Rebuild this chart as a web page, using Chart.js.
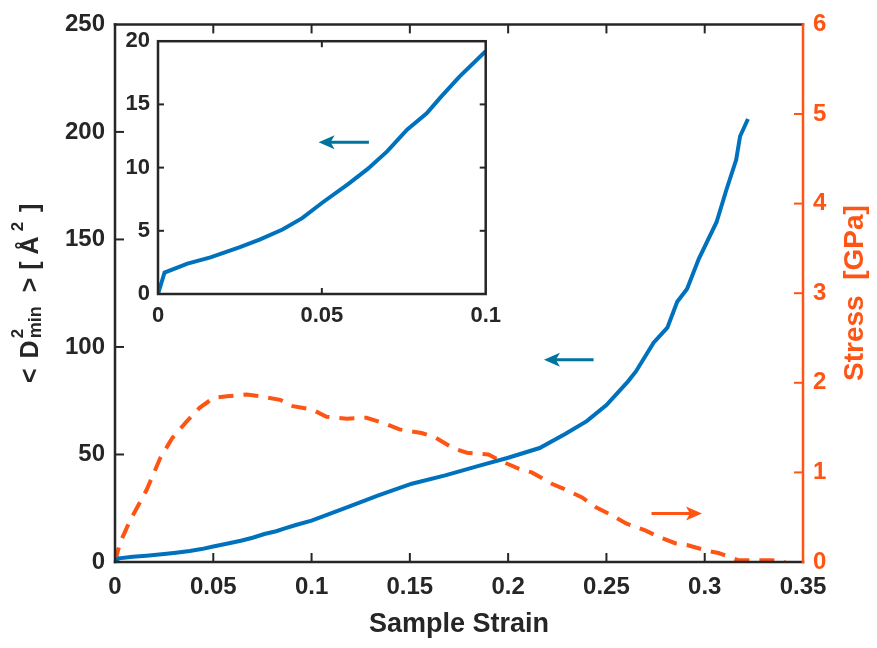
<!DOCTYPE html>
<html>
<head>
<meta charset="utf-8">
<script src="https://cdn.jsdelivr.net/npm/chart.js@4.4.1/dist/chart.umd.min.js"></script>
<style>
  html, body { margin: 0; padding: 0; background: #fff; }
  #wrap { position: relative; width: 877px; height: 648px; }
  #main { position: absolute; left: 0; top: 0; }
  #inset { position: absolute; left: 100px; top: 20px; }
</style>
</head>
<body>
<div id="wrap">
  <canvas id="main" width="877" height="648"></canvas>
  <canvas id="inset" width="410" height="320"></canvas>
</div>
<script>
// curva D2min (eje izquierdo)
const strainD = [0, 0.002, 0.009, 0.016, 0.025, 0.031, 0.038, 0.044, 0.05, 0.058, 0.064, 0.07, 0.076, 0.082, 0.086, 0.092, 0.1,
  0.118, 0.134, 0.151, 0.168, 0.185, 0.2, 0.216, 0.229, 0.24, 0.25, 0.261, 0.265, 0.274, 0.281, 0.286, 0.291, 0.297, 0.306, 0.311, 0.316, 0.318, 0.322];
const dmin = [0, 1.7, 2.4, 2.9, 3.7, 4.3, 5.1, 6.0, 7.2, 8.7, 9.9, 11.3, 13.0, 14.3, 15.5, 17.2, 19.2,
  25.4, 31, 36.4, 40.3, 44.7, 48.5, 53, 59.5, 65.5, 73, 84, 88.6, 102, 109, 121, 127, 141, 158, 173, 187, 198, 206];

// curva de tension (eje derecho)
const strainS = [0, 0.0025, 0.0076, 0.016, 0.023, 0.029, 0.0365, 0.043, 0.05, 0.057, 0.067, 0.0736, 0.084, 0.0905, 0.1005, 0.1076,
  0.118, 0.128, 0.138, 0.1447, 0.156, 0.163, 0.172, 0.179, 0.19, 0.196, 0.2056, 0.212, 0.2225, 0.228, 0.2376, 0.2447, 0.253,
  0.26, 0.27, 0.2767, 0.285, 0.291, 0.3005, 0.307, 0.317, 0.324, 0.334, 0.341];
const stress = [0, 0.21, 0.46, 0.8, 1.16, 1.38, 1.57, 1.72, 1.83, 1.85, 1.87, 1.85, 1.81, 1.74, 1.70, 1.62,
  1.60, 1.61, 1.54, 1.48, 1.44, 1.39, 1.27, 1.22, 1.2, 1.13, 1.04, 1.0, 0.87, 0.82, 0.72, 0.61, 0.52,
  0.43, 0.35, 0.28, 0.21, 0.19, 0.13, 0.10, 0.02, 0.02, 0.02, 0];

// marcas de los ejes
const xTicks = [0, 0.05, 0.1, 0.15, 0.2, 0.25, 0.3, 0.35];
const yTicks = [0, 50, 100, 150, 200, 250];
const y2Ticks = [0, 1, 2, 3, 4, 5, 6];
const insetXTicks = [0, 0.05, 0.1];
const insetYTicks = [0, 5, 10, 15, 20];

// flechas (en unidades de datos): desde -> hacia
const arrowD = { from: 0.2427, to: 0.2182, y: 94 };
const arrowS = { from: 0.2737, to: 0.2986, y: 0.54 };
const arrowInset = { from: 0.0639, to: 0.049, y: 12.0 };

const FONT = "'Liberation Sans', Arial, Helvetica, sans-serif";
const BLACK = '#262626';
const BLUE = '#0072BD';
const ARROW_BLUE = '#00739E';
const ORANGE = '#FF5514';

const fmt = v => String(+Number(v).toFixed(2));

function drawArrow(ctx, x1, x2, y, color) {
  const dir = Math.sign(x2 - x1);
  const head = 16;
  ctx.save();
  ctx.strokeStyle = color;
  ctx.fillStyle = color;
  ctx.lineWidth = 3;
  ctx.beginPath();
  ctx.moveTo(x1, y);
  ctx.lineTo(x2 - dir * head * 0.8, y);
  ctx.stroke();
  ctx.beginPath();
  ctx.moveTo(x2, y);
  ctx.lineTo(x2 - dir * head, y - 7);
  ctx.lineTo(x2 - dir * head * 0.75, y);
  ctx.lineTo(x2 - dir * head, y + 7);
  ctx.closePath();
  ctx.fill();
  ctx.restore();
}

function line(ctx, x1, y1, x2, y2, color, w) {
  ctx.strokeStyle = color;
  ctx.lineWidth = w;
  ctx.beginPath();
  ctx.moveTo(x1, y1);
  ctx.lineTo(x2, y2);
  ctx.stroke();
}

// etiqueta con superindices y subindices
function drawDminLabel(ctx) {
  const big = 'bold 25px ' + FONT;
  const small = 'bold 17px ' + FONT;
  const sub = 'bold 18px ' + FONT;
  ctx.save();
  ctx.translate(38, 383);
  ctx.rotate(-Math.PI / 2);
  ctx.fillStyle = BLACK;
  ctx.textBaseline = 'alphabetic';
  ctx.textAlign = 'left';
  let x = 0;
  const put = (t, f, dy, gap) => {
    ctx.font = f;
    ctx.fillText(t, x, dy);
    return ctx.measureText(t).width + gap;
  };
  x += put('<', big, 0, 10);
  x += put('D', big, 0, 2);
  ctx.font = small;
  ctx.fillText('2', x, -15);
  const w2 = ctx.measureText('2').width;
  ctx.font = sub;
  ctx.fillText('min', x, 3);
  x += Math.max(w2, ctx.measureText('min').width) + 14;
  x += put('>', big, 0, 8);
  x += put('[', big, 0, 7);
  x += put('\u00C5', big, 0, 5);
  x += put('2', small, -15, 10);
  put(']', big, 0, 0);
  ctx.restore();
}

const mainPlugin = {
  id: 'mainFrame',
  afterDatasetsDraw(chart) {
    const { ctx, chartArea: a, scales } = chart;
    ctx.save();
    // marcas interiores
    xTicks.slice(1, -1).forEach(v => {
      const px = scales.x.getPixelForValue(v);
      line(ctx, px, a.bottom, px, a.bottom - 9, BLACK, 2);
      line(ctx, px, a.top, px, a.top + 9, BLACK, 2);
    });
    yTicks.slice(1, -1).forEach(v => {
      const py = scales.y.getPixelForValue(v);
      line(ctx, a.left, py, a.left + 9, py, BLACK, 2);
    });
    y2Ticks.slice(1, -1).forEach(v => {
      const py = scales.y2.getPixelForValue(v);
      line(ctx, a.right, py, a.right - 9, py, ORANGE, 2);
    });
    // marco
    ctx.lineCap = 'square';
    line(ctx, a.left, a.top, a.right, a.top, BLACK, 2.5);
    line(ctx, a.left, a.top, a.left, a.bottom, BLACK, 2.5);
    line(ctx, a.left, a.bottom, a.right, a.bottom, BLACK, 2.5);
    line(ctx, a.right, a.top, a.right, a.bottom, ORANGE, 2.5);
    // flechas
    drawArrow(ctx, scales.x.getPixelForValue(arrowD.from), scales.x.getPixelForValue(arrowD.to),
      scales.y.getPixelForValue(arrowD.y), ARROW_BLUE);
    drawArrow(ctx, scales.x.getPixelForValue(arrowS.from), scales.x.getPixelForValue(arrowS.to),
      scales.y2.getPixelForValue(arrowS.y), ORANGE);
    // titulos de los ejes
    ctx.fillStyle = BLACK;
    ctx.font = 'bold 27px ' + FONT;
    ctx.textAlign = 'center';
    ctx.textBaseline = 'alphabetic';
    ctx.fillText('Sample Strain', (a.left + a.right) / 2, 632);
    ctx.save();
    ctx.translate(863, 293);
    ctx.rotate(-Math.PI / 2);
    ctx.fillStyle = ORANGE;
    ctx.font = 'bold 28px ' + FONT;
    ctx.fillText('Stress  [GPa]', 0, 0);
    ctx.restore();
    ctx.restore();
    drawDminLabel(ctx);
  }
};

const tickFont = { family: FONT, size: 24, weight: 'bold' };

const mainChart = new Chart(document.getElementById('main').getContext('2d'), {
  type: 'line',
  data: {
    datasets: [
      {
        label: 'D2min',
        data: strainD.map((x, i) => ({ x: x, y: dmin[i] })),
        borderColor: BLUE,
        borderWidth: 4,
        pointRadius: 0,
        tension: 0,
        yAxisID: 'y'
      },
      {
        label: 'Stress',
        data: strainS.map((x, i) => ({ x: x, y: stress[i] })),
        borderColor: ORANGE,
        borderWidth: 4,
        borderDash: [15, 10],
        pointRadius: 0,
        tension: 0,
        yAxisID: 'y2'
      }
    ]
  },
  options: {
    responsive: false,
    animation: false,
    parsing: false,
    layout: { padding: { top: 20, left: 0, right: 0, bottom: 0 } },
    plugins: { legend: { display: false }, tooltip: { enabled: false } },
    scales: {
      x: {
        type: 'linear', min: 0, max: 0.35,
        afterBuildTicks: s => { s.ticks = xTicks.map(v => ({ value: v })); },
        afterFit: s => { s.height = 86; },
        grid: { display: false, drawTicks: false },
        border: { display: false },
        ticks: { padding: 11, color: BLACK, font: tickFont, maxRotation: 0, autoSkip: false, callback: fmt }
      },
      y: {
        type: 'linear', position: 'left', min: 0, max: 250,
        afterBuildTicks: s => { s.ticks = yTicks.map(v => ({ value: v })); },
        afterFit: s => { s.width = 115; },
        grid: { display: false, drawTicks: false },
        border: { display: false },
        ticks: { padding: 10, color: BLACK, font: tickFont }
      },
      y2: {
        type: 'linear', position: 'right', min: 0, max: 6,
        afterBuildTicks: s => { s.ticks = y2Ticks.map(v => ({ value: v })); },
        afterFit: s => { s.width = 74; },
        grid: { display: false, drawTicks: false },
        border: { display: false },
        ticks: { padding: 10, color: ORANGE, font: tickFont }
      }
    }
  },
  plugins: [mainPlugin]
});

// grafico interior (zoom de 0 a 0.1)
const insetPlugin = {
  id: 'insetFrame',
  beforeDatasetsDraw(chart) {
    const { ctx, chartArea: a } = chart;
    ctx.save();
    ctx.fillStyle = '#fff';
    ctx.fillRect(a.left, a.top, a.right - a.left, a.bottom - a.top);
    ctx.restore();
  },
  afterDatasetsDraw(chart) {
    const { ctx, chartArea: a, scales } = chart;
    ctx.save();
    insetXTicks.slice(1, -1).forEach(v => {
      const px = scales.x.getPixelForValue(v);
      line(ctx, px, a.bottom, px, a.bottom - 6, BLACK, 2);
      line(ctx, px, a.top, px, a.top + 6, BLACK, 2);
    });
    insetYTicks.slice(1, -1).forEach(v => {
      const py = scales.y.getPixelForValue(v);
      line(ctx, a.left, py, a.left + 6, py, BLACK, 2);
      line(ctx, a.right, py, a.right - 6, py, BLACK, 2);
    });
    ctx.lineCap = 'square';
    ctx.strokeStyle = BLACK;
    ctx.lineWidth = 2.5;
    ctx.strokeRect(a.left, a.top, a.right - a.left, a.bottom - a.top);
    drawArrow(ctx, scales.x.getPixelForValue(arrowInset.from), scales.x.getPixelForValue(arrowInset.to),
      scales.y.getPixelForValue(arrowInset.y), ARROW_BLUE);
    ctx.restore();
  }
};

const insetFont = { family: FONT, size: 22, weight: 'bold' };

const insetChart = new Chart(document.getElementById('inset').getContext('2d'), {
  type: 'line',
  data: {
    datasets: [{
      label: 'D2min',
      data: strainD.map((x, i) => ({ x: x, y: dmin[i] })).filter(p => p.x <= 0.1),
      borderColor: BLUE,
      borderWidth: 4,
      pointRadius: 0,
      tension: 0
    }]
  },
  options: {
    responsive: false,
    animation: false,
    parsing: false,
    layout: { padding: { top: 17, right: 17, left: 0, bottom: 0 } },
    plugins: { legend: { display: false }, tooltip: { enabled: false } },
    scales: {
      x: {
        type: 'linear', min: 0, max: 0.1,
        afterBuildTicks: s => { s.ticks = insetXTicks.map(v => ({ value: v })); },
        afterFit: s => { s.height = 46; },
        grid: { display: false, drawTicks: false },
        border: { display: false },
        ticks: { padding: 9, color: BLACK, font: insetFont, maxRotation: 0, autoSkip: false, callback: fmt }
      },
      y: {
        type: 'linear', min: 0, max: 20,
        afterBuildTicks: s => { s.ticks = insetYTicks.map(v => ({ value: v })); },
        afterFit: s => { s.width = 58; },
        grid: { display: false, drawTicks: false },
        border: { display: false },
        ticks: { padding: 8, color: BLACK, font: insetFont }
      }
    }
  },
  plugins: [insetPlugin]
});
</script>
</body>
</html>
